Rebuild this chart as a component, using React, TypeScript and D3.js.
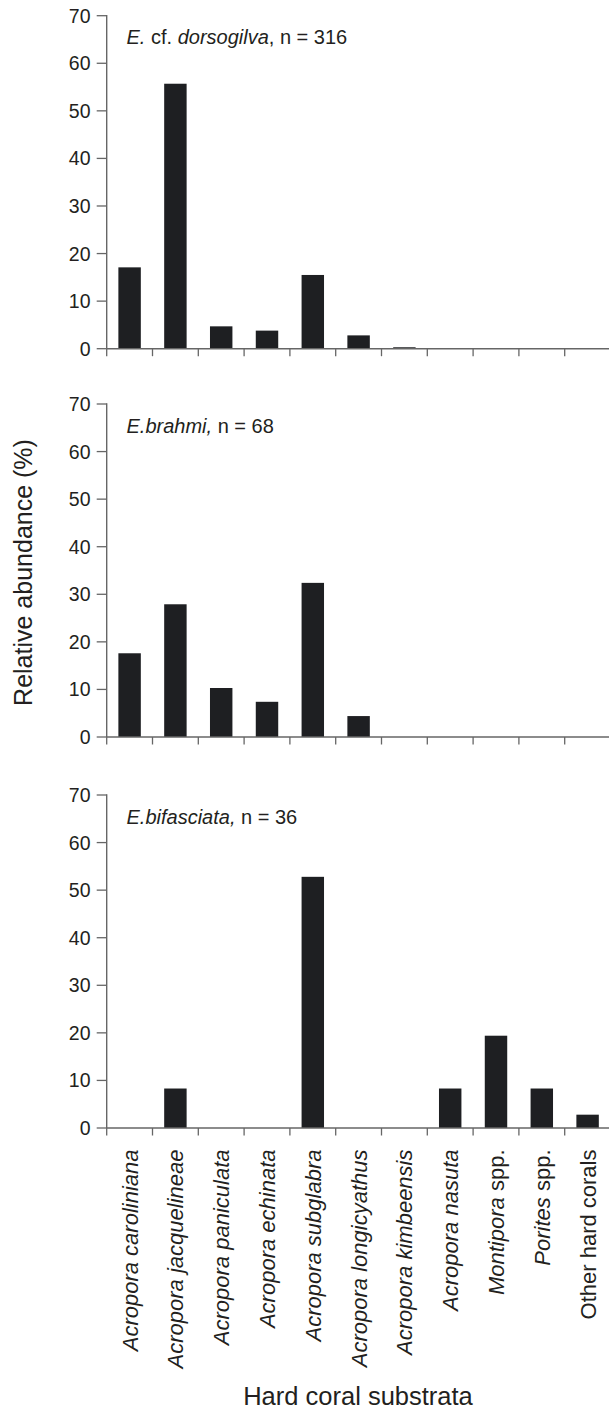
import React from "react";
import * as d3 from "d3";

// categories (name split into italic / roman parts)
const categories = [
  [["Acropora caroliniana", true]],
  [["Acropora jacquelineae", true]],
  [["Acropora paniculata", true]],
  [["Acropora echinata", true]],
  [["Acropora subglabra", true]],
  [["Acropora longicyathus", true]],
  [["Acropora kimbeensis", true]],
  [["Acropora nasuta", true]],
  [["Montipora", true], [" spp.", false]],
  [["Porites", true], [" spp.", false]],
  [["Other hard corals", false]],
] as [string, boolean][][];

const dorsogilva = [17.1, 55.7, 4.7, 3.8, 15.5, 2.8, 0.3, 0, 0, 0, 0];
const brahmi = [17.6, 27.9, 10.3, 7.4, 32.4, 4.4, 0, 0, 0, 0, 0];
const bifasciata = [0, 8.3, 0, 0, 52.8, 0, 0, 8.3, 19.4, 8.3, 2.8];

const dorsogilvaTitle = [["E.", true], [" cf. ", false], ["dorsogilva", true], [", n = 316", false]] as [string, boolean][];
const brahmiTitle = [["E.brahmi,", true], [" n = 68", false]] as [string, boolean][];
const bifasciataTitle = [["E.bifasciata,", true], [" n = 36", false]] as [string, boolean][];

const yTicks = [0, 10, 20, 30, 40, 50, 60, 70];

const panels = [
  { values: dorsogilva, title: dorsogilvaTitle, top: 15.7 },
  { values: brahmi, title: brahmiTitle, top: 404 },
  { values: bifasciata, title: bifasciataTitle, top: 795 },
];

const W = 609;
const H = 1414;
const left = 106.7;
const plotH = 333;
const font = "'Liberation Sans', Arial, Helvetica, sans-serif";
const axisColor = "#666";
const barColor = "#1e1f22";
const textColor = "#231f20";

const x = d3
  .scaleBand<number>()
  .domain(d3.range(categories.length))
  .range([left, left + 45.8 * categories.length])
  .padding(0);

const Panel = ({ values, title, top }) => {
  const y = d3.scaleLinear().domain([0, 70]).range([top + plotH, top]);
  const barW = x.bandwidth() * 0.49;
  return (
    <g>
      {values.map((v, i) => (
        <rect
          key={i}
          x={x(i) + x.bandwidth() / 2 - barW / 2}
          y={y(v)}
          width={barW}
          height={y(0) - y(v)}
          fill={barColor}
        />
      ))}
      {/* y axis */}
      <line x1={left} x2={left} y1={y(70) - 0.7} y2={y(0)} stroke={axisColor} strokeWidth={1.4} />
      {yTicks.map((t) => (
        <g key={t}>
          <line x1={left - 10} x2={left} y1={y(t)} y2={y(t)} stroke={axisColor} strokeWidth={1.3} />
          <text
            x={90.5}
            y={y(t)}
            dy="0.36em"
            textAnchor="end"
            fontSize={19.5}
            fontFamily={font}
            fill={textColor}
          >
            {t}
          </text>
        </g>
      ))}
      {/* x axis */}
      <line x1={left} x2={W} y1={y(0)} y2={y(0)} stroke={axisColor} strokeWidth={1.4} />
      {x.domain().map((i) => (
        <line
          key={i}
          x1={x(i)}
          x2={x(i)}
          y1={y(0)}
          y2={y(0) + 7.5}
          stroke={axisColor}
          strokeWidth={1.3}
        />
      ))}
      <text x={126.5} y={top + 28.5} fontSize={20} fontFamily={font} fill={textColor}>
        {title.map(([s, it], k) => (
          <tspan key={k} fontStyle={it ? "italic" : "normal"} xmlSpace="preserve">
            {s}
          </tspan>
        ))}
      </text>
    </g>
  );
};

const App = () => {
  const baseY = panels[2].top + plotH;
  return (
    <svg
      width={W}
      height={H}
      style={{ position: "absolute", left: 0, top: 0, background: "#fff" }}
    >
      {panels.map((p, k) => (
        <Panel key={k} {...p} />
      ))}
      {categories.map((parts, i) => {
        const cx = x(i) + x.bandwidth() / 2 + 8;
        const cy = baseY + 21.5;
        return (
          <text
            key={i}
            transform={`translate(${cx},${cy}) rotate(-90)`}
            textAnchor="end"
            fontSize={22}
            fontFamily={font}
            fill={textColor}
            style={{ whiteSpace: "pre" }}
          >
            {parts.map(([s, it], k) => (
              <tspan key={k} fontStyle={it ? "italic" : "normal"}>
                {s}
              </tspan>
            ))}
          </text>
        );
      })}
      <text
        transform={`translate(32,572.5) rotate(-90)`}
        textAnchor="middle"
        fontSize={25}
        fontFamily={font}
        fill={textColor}
      >
        Relative abundance (%)
      </text>
      <text
        x={358}
        y={1405}
        textAnchor="middle"
        fontSize={25.5}
        fontFamily={font}
        fill={textColor}
      >
        Hard coral substrata
      </text>
    </svg>
  );
};

export default App;
